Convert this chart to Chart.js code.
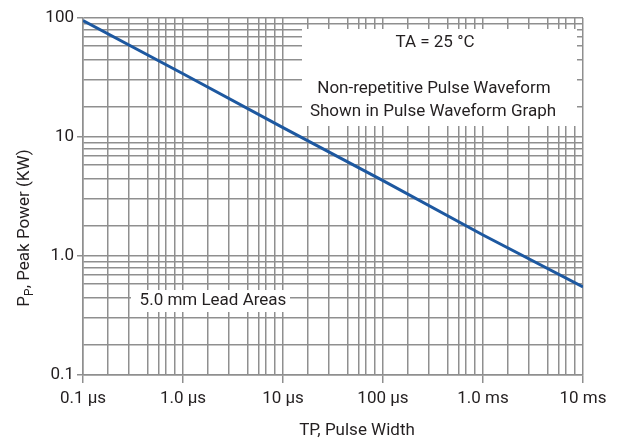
<!DOCTYPE html>
<html>
<head>
<meta charset="utf-8">
<script src="https://cdn.jsdelivr.net/npm/chart.js@4.4.0/dist/chart.umd.min.js"></script>
<style>
  html, body { margin: 0; padding: 0; background: #fff; }
  #wrap { width: 622px; height: 443px; }
</style>
</head>
<body>
<div id="wrap"><canvas id="chart"></canvas></div>
<script>
// pulse width in µs, peak power in kW
const pulseWidth = [0.1, 1, 10, 100, 1000, 10000];
const peakPower = [95, 34, 12, 4.3, 1.5, 0.55];

const xTickValues = [0.1, 1, 10, 100, 1000, 10000];
const xTickLabels = ["0.1 µs", "1.0 µs", "10 µs", "100 µs", "1.0 ms", "10 ms"];
const xMinorSteps = [1.75, 2.9, 4.4, 5.7, 6.7, 8.3];

const yTickValues = [0.1, 1, 10, 100];
const yTickLabels = ["0.1", "1.0", "10", "100"];
const yMinorSteps = [1.8, 3, 4.5, 5.8, 6.9, 7.9, 9];

const gridColor = "#8f8f8f";
const textColor = "#231f20";

// use a narrow face when the machine has one, it is closer to the original lettering
function hasFont(name) {
  const c = document.createElement("canvas").getContext("2d");
  c.font = "20px monospace";
  const a = c.measureText("mmmmmwwwwlli").width;
  c.font = "20px '" + name + "', monospace";
  return c.measureText("mmmmmwwwwlli").width !== a;
}
const narrow = hasFont("Liberation Sans Narrow");
const font = narrow ? "'Liberation Sans Narrow', Roboto, sans-serif" : "Roboto, sans-serif";
const size = narrow ? 19 : 17;

function buildGrid(majors, steps) {
  const ticks = [];
  majors.forEach((m, i) => {
    ticks.push({ value: m, major: true });
    if (i < majors.length - 1) {
      steps.forEach(s => ticks.push({ value: m * s, major: false }));
    }
  });
  return ticks;
}

function tickLabel(values, labels) {
  return function (v) {
    const i = values.indexOf(v);
    return i >= 0 ? labels[i] : "";
  };
}

const notes = {
  id: "notes",
  beforeDatasetsDraw(chart) {
    const ctx = chart.ctx;
    ctx.save();
    ctx.fillStyle = "#fff";
    ctx.fillRect(302, 29, 275, 97);
    ctx.fillRect(131, 290, 159, 22);
    ctx.fillStyle = textColor;
    ctx.font = size + "px " + font;
    ctx.textAlign = "center";
    ctx.textBaseline = "middle";
    ctx.fillText("TA = 25 °C", 435, 43);
    ctx.fillText("Non-repetitive Pulse Waveform", 434, 89);
    ctx.fillText("Shown in Pulse Waveform Graph", 433, 112);
    ctx.fillText("5.0 mm Lead Areas", 213, 301);
    ctx.restore();
  },
  afterDraw(chart) {
    const ctx = chart.ctx;
    ctx.save();
    ctx.fillStyle = textColor;
    ctx.textBaseline = "middle";
    ctx.font = size + "px " + font;
    ctx.textAlign = "center";
    ctx.fillText("TP, Pulse Width", 357, 431);

    // y title with subscript
    ctx.translate(25, 228);
    ctx.rotate(-Math.PI / 2);
    ctx.textAlign = "left";
    const big = size + "px " + font, small = Math.round(size * 0.72) + "px " + font;
    ctx.font = big;
    const w1 = ctx.measureText("P").width;
    const w3 = ctx.measureText(", Peak Power (KW)").width;
    ctx.font = small;
    const w2 = ctx.measureText("P").width;
    let x = -(w1 + w2 + w3) / 2;
    ctx.font = big;
    ctx.fillText("P", x, 0);
    x += w1;
    ctx.font = small;
    ctx.fillText("P", x, 5);
    x += w2;
    ctx.font = big;
    ctx.fillText(", Peak Power (KW)", x, 0);
    ctx.restore();
  }
};

const majorTickColor = c => (c.tick && c.tick.major ? gridColor : "rgba(0,0,0,0)");

new Chart(document.getElementById("chart").getContext("2d"), {
  type: "line",
  data: {
    datasets: [
      {
        data: pulseWidth.map((x, i) => ({ x: x, y: peakPower[i] })),
        borderColor: "#1d58a0",
        borderWidth: 3,
        pointRadius: 0,
        tension: 0,
        fill: false,
      },
    ],
  },
  options: {
    responsive: true,
    maintainAspectRatio: false,
    animation: false,
    layout: { padding: { left: 0, right: 39, top: 18, bottom: 0 } },
    plugins: {
      legend: { display: false },
      tooltip: { enabled: false },
    },
    scales: {
      x: {
        type: "logarithmic",
        min: 0.1,
        max: 10000,
        afterBuildTicks: s => { s.ticks = buildGrid(xTickValues, xMinorSteps); },
        afterFit: s => { s.height = 68; },
        grid: { color: gridColor, lineWidth: 1.5, tickLength: 8, tickColor: majorTickColor },
        border: { display: true, color: gridColor, width: 1.5 },
        ticks: {
          autoSkip: false,
          maxRotation: 0,
          padding: 6,
          color: textColor,
          font: { family: font, size: size },
          callback: tickLabel(xTickValues, xTickLabels),
        },
      },
      y: {
        type: "logarithmic",
        min: 0.1,
        max: 100,
        afterBuildTicks: s => { s.ticks = buildGrid(yTickValues, yMinorSteps); },
        afterFit: s => { s.width = 83; },
        grid: { color: gridColor, lineWidth: 1.5, tickLength: 6, tickColor: majorTickColor },
        border: { display: true, color: gridColor, width: 1.5 },
        ticks: {
          autoSkip: false,
          padding: 3,
          color: textColor,
          font: { family: font, size: size },
          callback: tickLabel(yTickValues, yTickLabels),
        },
      },
    },
  },
  plugins: [notes],
});
</script>
</body>
</html>
